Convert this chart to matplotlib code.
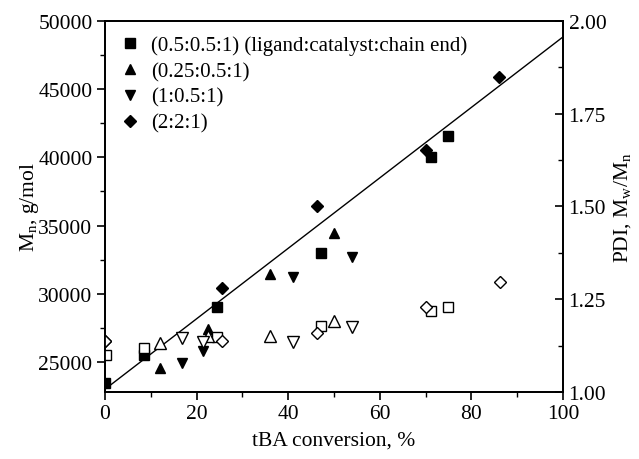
import matplotlib.pyplot as plt
from matplotlib.ticker import MultipleLocator
import numpy as np

plt.rcParams['font.family'] = ['Liberation Serif', 'DejaVu Serif']
plt.rcParams['mathtext.fontset'] = 'custom'
plt.rcParams['mathtext.rm'] = 'Liberation Serif'
plt.rcParams['mathtext.it'] = 'Liberation Serif:italic'

# Mn (filled markers, left axis)
sq_x = [0, 8.6, 24.5, 47.2, 71.1, 75.0]
sq_mn = [23460, 25510, 29030, 32990, 40050, 41550]
tri_x = [12.1, 22.4, 36.0, 50.1]
tri_mn = [24580, 27420, 31450, 34460]
dtri_x = [16.8, 21.3, 41.1, 53.9]
dtri_mn = [24930, 25780, 31230, 32720]
dia_x = [0, 25.6, 46.2, 70.2, 86.0]
dia_mn = [26560, 30400, 36410, 40560, 45890]

# PDI (open markers, right axis)
sq_px = [0.2, 8.6, 24.5, 47.1, 71.1, 75.0]
sq_pdi = [1.100, 1.118, 1.149, 1.179, 1.218, 1.228]
tri_px = [12.1, 22.4, 36.0, 50.1]
tri_pdi = [1.131, 1.152, 1.150, 1.192]
dtri_px = [16.8, 21.3, 41.1, 53.9]
dtri_pdi = [1.146, 1.136, 1.136, 1.176]
dia_px = [0, 25.6, 46.2, 70.2, 86.2]
dia_pdi = [1.138, 1.137, 1.158, 1.228, 1.297]

# theoretical Mn line
line_x = [0, 100]
line_mn = [23000, 48830]

labels = ['(0.5:0.5:1) (ligand:catalyst:chain end)', '(0.25:0.5:1)', '(1:0.5:1)', '(2:2:1)']

fig = plt.figure(figsize=(6.39, 4.6), dpi=100)
ax = fig.add_axes([0.1643, 0.1457, 0.7167, 0.8065])
ax2 = ax.twinx()

ms = 6.5
ax.plot(line_x, line_mn, color='black', lw=1.0)
ax.plot(sq_x, sq_mn, 's', color='black', ms=ms, label=labels[0])
ax.plot(tri_x, tri_mn, '^', color='black', ms=ms + 0.5, label=labels[1])
ax.plot(dtri_x, dtri_mn, 'v', color='black', ms=ms + 0.5, label=labels[2])
ax.plot(dia_x, dia_mn, 'D', color='black', ms=ms - 0.5, label=labels[3])

ax2.plot(sq_px, sq_pdi, 's', mfc='white', mec='black', mew=1, ms=ms)
ax2.plot(tri_px, tri_pdi, '^', mfc='white', mec='black', mew=1, ms=ms + 1.5)
ax2.plot(dtri_px, dtri_pdi, 'v', mfc='white', mec='black', mew=1, ms=ms + 1.5)
ax2.plot(dia_px, dia_pdi, 'D', mfc='white', mec='black', mew=1, ms=ms)

ax.set_xlim(0, 100)
ax.set_ylim(22800, 50000)
ax2.set_ylim(1.0, 2.0)

ax.xaxis.set_major_locator(MultipleLocator(20))
ax.xaxis.set_minor_locator(MultipleLocator(10))
ax.yaxis.set_major_locator(MultipleLocator(5000))
ax.yaxis.set_minor_locator(MultipleLocator(2500))
ax2.yaxis.set_major_locator(MultipleLocator(0.25))
ax2.yaxis.set_minor_locator(MultipleLocator(0.125))

ax.tick_params(axis='both', which='major', direction='out', length=6, width=1.2, labelsize=15.5, pad=3)
ax.tick_params(axis='both', which='minor', direction='out', length=3.5, width=1.0)
ax2.tick_params(axis='y', which='major', direction='in', length=6, width=1.2, labelsize=15.5, pad=4)
ax2.tick_params(axis='y', which='minor', direction='in', length=3.5, width=1.0)
ax2.yaxis.set_major_formatter(plt.FuncFormatter(lambda v, p: f'{v:.2f}'))

for a in (ax, ax2):
    for s in a.spines.values():
        s.set_linewidth(1.3)

ax.set_xlabel('tBA conversion, %', fontsize=15.5, labelpad=5)
ax.set_ylabel(r'M$_\mathrm{n}$, g/mol', fontsize=15.5, labelpad=-2)
ax2.set_ylabel(r'PDI, M$_\mathrm{w}$/M$_\mathrm{n}$', fontsize=15.5, labelpad=4)

ax.legend(loc='upper left', frameon=False, fontsize=15, handlelength=1.0,
          handletextpad=0.5, labelspacing=0.3, borderaxespad=0.3,
          bbox_to_anchor=(0.0, 1.0))

fig.savefig('out.png', dpi=100)
